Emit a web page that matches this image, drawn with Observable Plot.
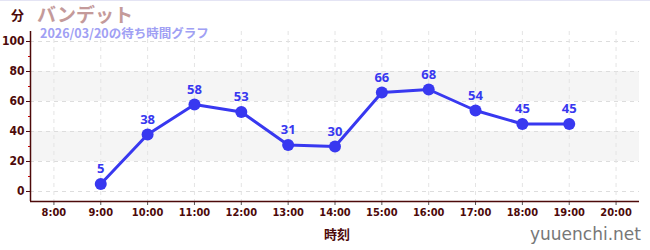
<!DOCTYPE html>
<html><head><meta charset="utf-8">
<script src="https://cdn.jsdelivr.net/npm/d3@7"></script>
<script src="https://cdn.jsdelivr.net/npm/@observablehq/plot@0.6"></script>
<style>
html,body{margin:0;padding:0;background:#fff;}
#wrap{position:relative;width:650px;height:250px;overflow:hidden;border-top:1px solid #e4e4f4;box-sizing:border-box;}
#wrap svg{position:absolute;left:0;top:0;}
.ov{position:absolute;white-space:nowrap;line-height:1;font-family:"Noto Sans CJK JP","Noto Sans",sans-serif;}
</style></head>
<body><div id="wrap"></div>
<script>
const times = ["9:00","10:00","11:00","12:00","13:00","14:00","15:00","16:00","17:00","18:00","19:00"];
const waits = [5,38,58,53,31,30,66,68,54,45,45];
const tickHours = [8,9,10,11,12,13,14,15,16,17,18,19,20];
const yMajor = [0,20,40,60,80,100];
const yMinor = [10,30,50,70,90];
const bandLo = [20,60];
const bandHi = [40,80];
const xDomain = [7.5,20.5];
const yDomain = [-6.67,106.67];

const data = times.map((t,i)=>({h:+t.split(":")[0], w:waits[i]}));
const bands = bandLo.map((lo,i)=>({lo, hi:bandHi[i]}));
const axisColor = "#4d0a0a";
const blue = "#3838f0";

const chart = Plot.plot({
  width:650, height:250,
  marginTop:30, marginBottom:50, marginLeft:30, marginRight:11,
  style:{fontFamily:"'DejaVu Sans Condensed','DejaVu Sans',sans-serif", fontSize:"11px", background:"transparent"},
  x:{domain:xDomain},
  y:{domain:yDomain},
  marks:[
    Plot.rect(bands,{y1:"lo",y2:"hi",fill:"#f5f5f5"}),
    Plot.gridY(yMajor,{stroke:"#dddddd",strokeOpacity:1,strokeDasharray:"4,4"}),
    Plot.gridX(tickHours,{stroke:"#e4e4e4",strokeOpacity:1,strokeDasharray:"4,4"}),
    Plot.axisY(yMinor,{tickSize:2,stroke:"#cc0000",tickFormat:()=>"",label:null}),
    Plot.axisY(yMajor,{tickSize:4,stroke:axisColor,fill:axisColor,fontWeight:"bold",fontSize:12,tickPadding:2,label:null}),
    Plot.axisX(tickHours,{tickSize:4,stroke:"#555",fill:axisColor,fontWeight:"bold",fontSize:11,tickFormat:d=>d+":00",label:null,tickPadding:3}),
    Plot.ruleX([xDomain[0]],{stroke:axisColor,strokeWidth:1.5}),
    Plot.ruleY([yDomain[0]],{stroke:axisColor,strokeWidth:1.5}),
    Plot.line(data,{x:"h",y:"w",stroke:blue,strokeWidth:3}),
    Plot.dot(data,{x:"h",y:"w",r:6,fill:blue}),
    Plot.text(data,{x:"h",y:"w",text:"w",dy:-15,fill:blue,fontSize:13,fontWeight:"bold",fontFamily:"'Noto Sans',sans-serif"})
  ]
});
const wrap = document.getElementById("wrap");
wrap.appendChild(chart);
function ov(txt, css){const d=document.createElement("div");d.className="ov";d.textContent=txt;d.style.cssText+=css;wrap.appendChild(d);}
ov("分","left:11px;top:7px;font-size:13px;font-weight:bold;color:#4d0a0a;");
ov("バンデット","left:37px;top:3px;font-size:19px;font-weight:bold;color:#c49a9a;");
ov("2026/03/20の待ち時間グラフ","left:40px;top:26px;font-size:12.5px;font-weight:bold;color:#a0a0f4;");
ov("時刻","left:324px;top:226px;font-size:13px;font-weight:bold;color:#4d0a0a;");
ov("yuuenchi.net","left:530px;top:225px;font-size:17px;color:#777;font-family:'DejaVu Sans',sans-serif;");
</script></body></html>
